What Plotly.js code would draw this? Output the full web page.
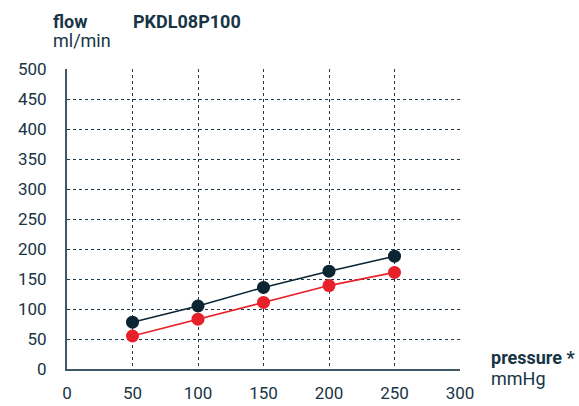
<!DOCTYPE html>
<html><head><meta charset="utf-8">
<script src="https://cdn.plot.ly/plotly-3.0.1.min.js"></script>
<style>html,body{margin:0;padding:0;background:#fff;}#chart{width:579px;height:406px;}</style>
</head><body><div id="chart"></div>
<script>
const pressure = [50, 100, 150, 200, 250];
const flowDark = [78, 105, 136, 163, 188];
const flowRed = [55, 83, 111, 139, 161];
const xTicks = [0, 50, 100, 150, 200, 250, 300];
const yTicks = [0, 50, 100, 150, 200, 250, 300, 350, 400, 450, 500];
const gridX = [50, 100, 150, 200, 250];
const gridY = [50, 100, 150, 200, 250, 300, 350, 400, 450];

const txt = '#173544';
const fam = 'Roboto, "Open Sans", sans-serif';
const font = {family: fam, size: 17, color: txt};
const tfont = {family: fam, size: 18, color: txt};

const gridTrace = {x: [0], y: [0], xaxis: 'x2', yaxis: 'y2', mode: 'markers', marker: {opacity: 0},
  hoverinfo: 'skip', showlegend: false};
const darkTrace = {x: pressure, y: flowDark, mode: 'lines+markers', line: {color: '#0c2533', width: 1.6},
  marker: {color: '#0c2533', size: 13}, cliponaxis: false, showlegend: false};
const redTrace = {x: pressure, y: flowRed, mode: 'lines+markers', line: {color: '#e8202a', width: 1.6},
  marker: {color: '#e8202a', size: 13}, cliponaxis: false, showlegend: false};

const layout = {
  width: 579, height: 406,
  margin: {l: 67, r: 119, t: 69, b: 37},
  paper_bgcolor: '#fff', plot_bgcolor: 'rgba(0,0,0,0)',
  font: font,
  xaxis: {range: [0, 300], tickvals: xTicks, ticktext: xTicks.map(String), showgrid: false,
          zeroline: false, showline: true, linecolor: '#3f5767', linewidth: 2, ticks: '',
          tickfont: font, ticklabelstandoff: 8},
  yaxis: {range: [0, 500], tickvals: yTicks, ticktext: yTicks.map(String), showgrid: false,
          zeroline: false, showline: true, linecolor: '#3f5767', linewidth: 2, ticks: '',
          tickfont: font, ticklabelstandoff: 15},
  xaxis2: {overlaying: 'x', range: [0, 300], tickvals: gridX, showticklabels: false, showgrid: true,
           gridcolor: '#1f3a4b', griddash: 'dot', gridwidth: 1, zeroline: false, showline: false, ticks: ''},
  yaxis2: {overlaying: 'y', anchor: 'x2', range: [0, 500], tickvals: gridY, showticklabels: false, showgrid: true,
           gridcolor: '#1f3a4b', griddash: 'dot', gridwidth: 1, zeroline: false, showline: false, ticks: ''},
  annotations: [
    {xref: 'paper', yref: 'paper', x: -0.04, y: 1.2, xanchor: 'left', yanchor: 'top', showarrow: false,
     text: '<b>flow</b>', font: tfont},
    {xref: 'paper', yref: 'paper', x: -0.04, y: 1.137, xanchor: 'left', yanchor: 'top', showarrow: false,
     text: 'ml/min', font: tfont},
    {xref: 'paper', yref: 'paper', x: 0.162, y: 1.2, xanchor: 'left', yanchor: 'top', showarrow: false,
     text: '<b>PKDL08P100</b>', font: tfont},
    {xref: 'paper', yref: 'paper', x: 1.074, y: 0.08, xanchor: 'left', yanchor: 'top', showarrow: false,
     text: '<b>pressure *</b>', font: tfont},
    {xref: 'paper', yref: 'paper', x: 1.074, y: 0.01, xanchor: 'left', yanchor: 'top', showarrow: false,
     text: 'mmHg', font: tfont}
  ]
};
Plotly.newPlot('chart', [gridTrace, darkTrace, redTrace], layout, {displayModeBar: false, staticPlot: true});
</script></body></html>
